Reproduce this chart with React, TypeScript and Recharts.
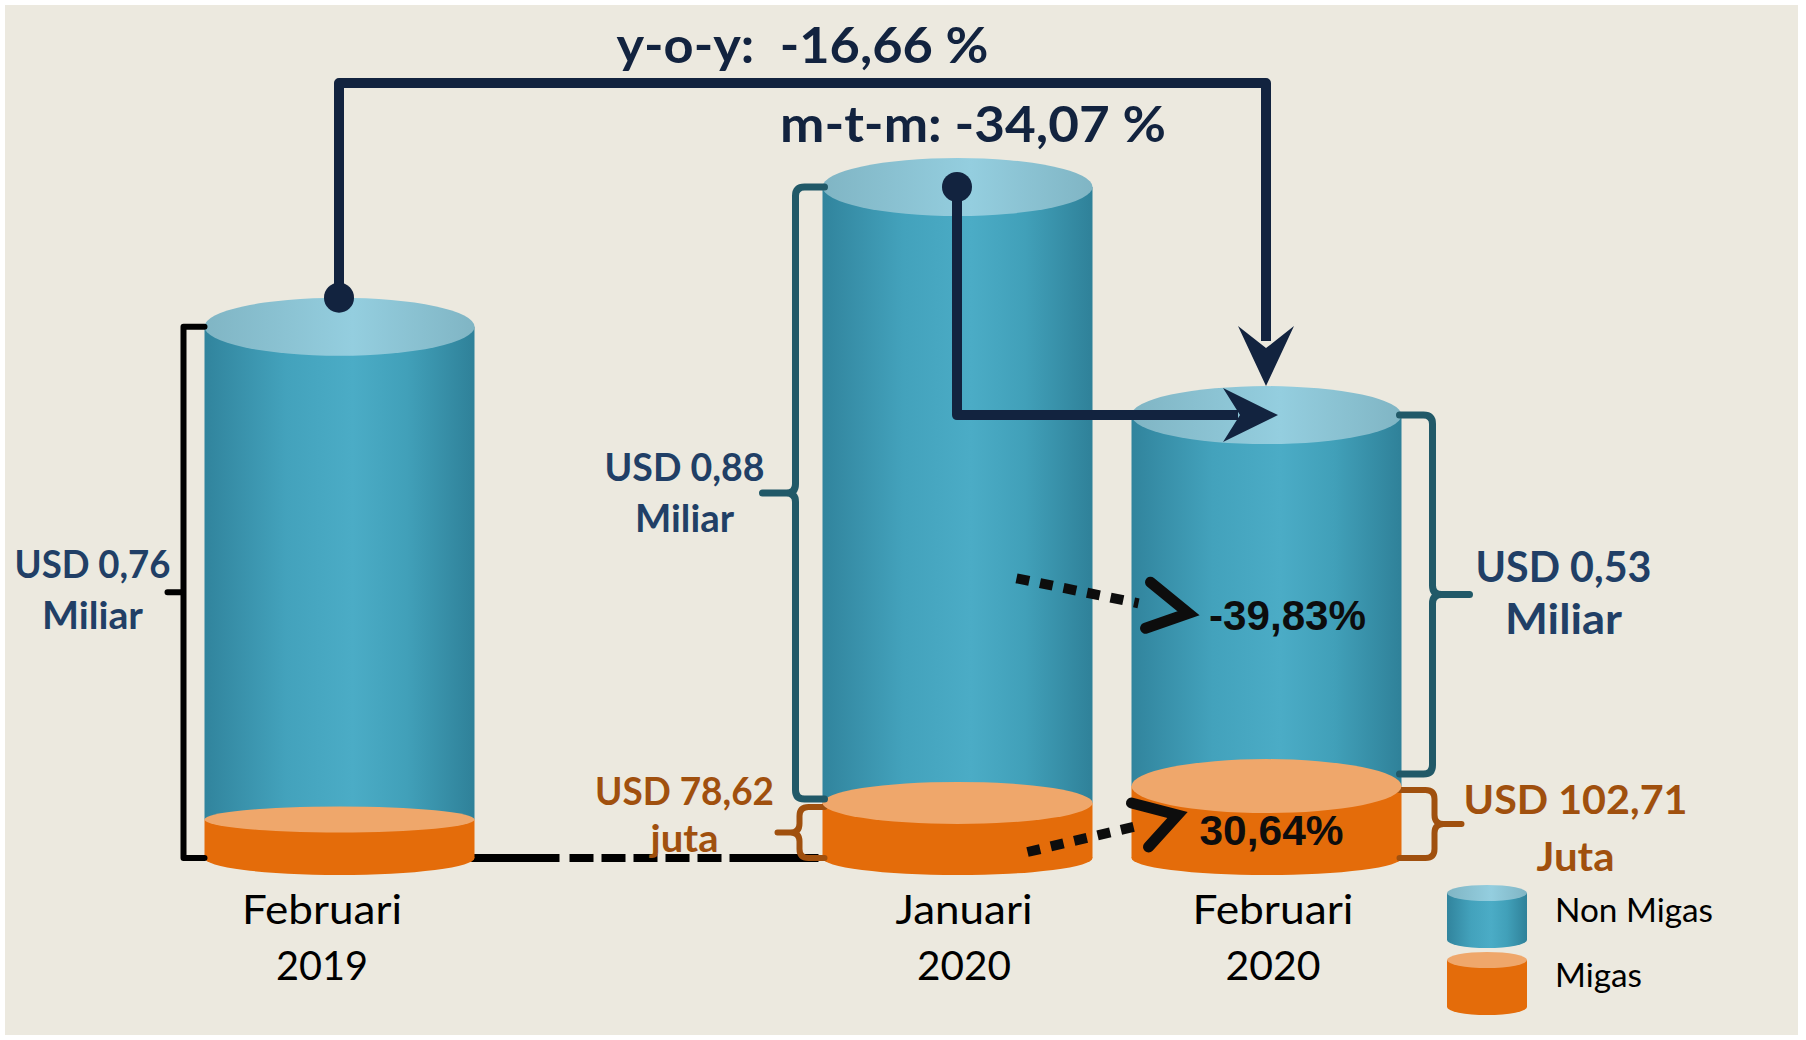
import { BarChart, Bar, XAxis, YAxis, ReferenceLine } from 'recharts'

// ekspor (USD miliar)
const periods = ['Februari 2019', ' ', 'Januari 2020', 'Februari 2020']
const monthLabels = ['Februari', '', 'Januari', 'Februari']
const yearLabels = ['2019', '', '2020', '2020']
const nonMigas = [0.704, null, 0.88, 0.53]
const migas = [0.055, null, 0.07862, 0.10271]
const nonMigasLabels = [['USD 0,76', 'Miliar'], [], ['USD 0,88', 'Miliar'], ['USD 0,53', 'Miliar']]
const migasLabels = [[], [], ['USD 78,62', 'juta'], ['USD 102,71', 'Juta']]
const yoyLabel = 'y-o-y:  -16,66 %'
const mtmLabel = 'm-t-m: -34,07 %'
const nonMigasChange = '-39,83%'
const migasChange = '30,64%'

const data = periods.map((period, i) => ({ period, migas: migas[i], nonMigas: nonMigas[i] }))
const total = (i: number) => (migas[i] ?? 0) + (nonMigas[i] ?? 0)

const NAVY = '#12233f'
const LABEL_BLUE = '#213f66'
const BROWN = '#a0500e'
const TEAL_DARK = '#215968'
const ORANGE = '#e46c0a'
const PEACH = '#efa76b'
const TOP_RY = 29
const BOTTOM_RY = 17
const MIGAS_RY = [13, 0, 21, 27]
const TICK_DX = [-17, 0, 7, 7]
const MONTH_W = [160, 0, 137, 161]
const YEAR_W = [92, 0, 94, 95]
const FONT = 'Lato, "Open Sans", sans-serif'
const ARIAL = '"Liberation Sans", Arial, sans-serif'
const YOY_Y = 83

function T({ x, y, size, color, w, bold = true, family = FONT, anchor = 'middle', children }: any) {
  return (
    <text x={x} y={y} fontSize={size} fill={color} fontFamily={family} fontWeight={bold ? 700 : 400}
      textAnchor={anchor} textLength={w} lengthAdjust="spacingAndGlyphs" style={{ whiteSpace: 'pre' }}>
      {children}
    </text>
  )
}

function brace(edgeX: number, bx: number, tipX: number, y1: number, y2: number) {
  const s = edgeX > bx ? 1 : -1
  const t = tipX > bx ? 1 : -1
  const r = 9
  const ym = (y1 + y2) / 2
  return `M ${edgeX} ${y1} H ${bx + s * r} Q ${bx} ${y1} ${bx} ${y1 + r} V ${ym - r} Q ${bx} ${ym} ${bx + t * r} ${ym} H ${tipX} ` +
    `M ${bx + t * r} ${ym} Q ${bx} ${ym} ${bx} ${ym + r} V ${y2 - r} Q ${bx} ${y2} ${bx + s * r} ${y2} H ${edgeX}`
}

function DotArrow({ from, to, tip, a, b }: any) {
  return (
    <g>
      <line x1={from[0]} y1={from[1]} x2={to[0]} y2={to[1]} stroke="#0d0d0d" strokeWidth={10} strokeDasharray="13 11" />
      <polyline points={`${a[0]},${a[1]} ${tip[0]},${tip[1]} ${b[0]},${b[1]}`} fill="none" stroke="#0d0d0d"
        strokeWidth={11} strokeLinecap="round" strokeLinejoin="miter" />
    </g>
  )
}

function MigasShape(props: any) {
  const { x, y, width, height, index } = props
  if (migas[index] == null || !height || height <= 0) return null
  const cx = x + width / 2
  const base = y + height
  const lab = migasLabels[index]
  return (
    <g>
      {index === 0 && (
        <g stroke="#000" strokeWidth={8}>
          <line x1={x + width - 5} y1={base} x2={x + width + 85} y2={base} />
          <line x1={x + width + 95} y1={base} x2={x + width + 272} y2={base} strokeDasharray="24 8" />
          <line x1={x + width + 270} y1={base} x2={x + width + 344} y2={base} />
        </g>
      )}
      <ellipse cx={cx} cy={base} rx={width / 2} ry={BOTTOM_RY} fill={ORANGE} />
      <rect x={x} y={y} width={width} height={height} fill={ORANGE} />
      {index === 2 && (
        <g>
          <path d={brace(x + 2, x - 23, x - 45, y + 4, base)} fill="none" stroke={BROWN} strokeWidth={6} strokeLinecap="round" />
          <T x={x - 138} y={(y + 4 + base) / 2 - 27} size={38} color={BROWN} w={179}>{lab[0]}</T>
          <T x={x - 138} y={(y + 4 + base) / 2 + 20} size={38} color={BROWN} w={68}>{lab[1]}</T>
        </g>
      )}
      {index === 3 && (
        <g>
          <path d={brace(x + width - 2, x + width + 33, x + width + 60, y + 4, base)} fill="none" stroke={BROWN} strokeWidth={6} strokeLinecap="round" />
          <T x={x + width + 174} y={(y + 4 + base) / 2 - 10} size={40} color={BROWN} w={224}>{lab[0]}</T>
          <T x={x + width + 174} y={(y + 4 + base) / 2 + 47} size={40} color={BROWN} w={78}>{lab[1]}</T>
        </g>
      )}
    </g>
  )
}

function NonMigasShape(props: any) {
  const { x, y, width, height, index } = props
  const v = nonMigas[index]
  if (v == null || !height || height <= 0) return null
  const cx = x + width / 2
  const rx = width / 2
  const mt = y + height
  const mh = (height / v) * (migas[index] ?? 0)
  const base = mt + mh
  const lab = nonMigasLabels[index]
  let extra = null
  if (index === 0) {
    const bx = x - 21
    const ym = (y + base) / 2
    extra = (
      <g>
        <path d={`M ${x} ${y} H ${bx} V ${base} H ${x} M ${bx} ${ym} H ${bx - 16}`} fill="none" stroke="#000" strokeWidth={6} strokeLinejoin="round" strokeLinecap="round" />
        <T x={x - 112} y={ym - 14} size={38} color={LABEL_BLUE} w={156}>{lab[0]}</T>
        <T x={x - 112} y={ym + 37} size={38} color={LABEL_BLUE} w={101}>{lab[1]}</T>
      </g>
    )
  } else if (index === 2) {
    const y2 = mt - 4
    const ym = (y + y2) / 2
    extra = (
      <g>
        <path d={brace(x + 2, x - 27, x - 60, y, y2)} fill="none" stroke={TEAL_DARK} strokeWidth={7} strokeLinecap="round" />
        <T x={x - 138} y={ym - 12} size={38} color={LABEL_BLUE} w={160}>{lab[0]}</T>
        <T x={x - 138} y={ym + 39} size={38} color={LABEL_BLUE} w={99}>{lab[1]}</T>
      </g>
    )
  } else if (index === 3) {
    const y2 = mt - 12
    const ym = (y + y2) / 2
    const b1 = y + 0.58 * height
    const t1 = [x + 57, b1 - 17]
    const b2 = base - 13
    const t2 = [x + 46, b2 - 30]
    extra = (
      <g>
        <path d={brace(x + width - 2, x + width + 31, x + width + 68, y, y2)} fill="none" stroke={TEAL_DARK} strokeWidth={7} strokeLinecap="round" />
        <T x={x + width + 162} y={ym - 13} size={42} color={LABEL_BLUE} w={176}>{lab[0]}</T>
        <T x={x + width + 162} y={ym + 39} size={42} color={LABEL_BLUE} w={117}>{lab[1]}</T>
        <DotArrow from={[t1[0] - 172, t1[1] - 35]} to={[t1[0] - 50, t1[1] - 10]} tip={t1}
          a={[t1[0] - 38, t1[1] - 31]} b={[t1[0] - 43, t1[1] + 15]} />
        <T x={cx + 21} y={b1} size={42} color="#0d0d0d" w={157} family={ARIAL}>{nonMigasChange}</T>
        <DotArrow from={[t2[0] - 150, t2[1] + 37]} to={[t2[0] - 40, t2[1] + 11]} tip={t2}
          a={[t2[0] - 46, t2[1] - 12]} b={[t2[0] - 29, t2[1] + 32]} />
        <T x={cx + 5} y={b2} size={42} color="#0d0d0d" w={144} family={ARIAL}>{migasChange}</T>
      </g>
    )
  }
  return (
    <g>
      <rect x={x} y={y} width={width} height={height} fill="url(#tealBody)" />
      <ellipse cx={cx} cy={mt} rx={rx} ry={MIGAS_RY[index]} fill={PEACH} />
      <ellipse cx={cx} cy={y} rx={rx} ry={TOP_RY} fill="url(#tealTop)" />
      {extra}
    </g>
  )
}

function YoyConnector(props: any) {
  const { x1, y1, x2, y2 } = props
  const sy = y1 - TOP_RY
  const ty = y2 - TOP_RY
  return (
    <g>
      <path d={`M ${x1} ${sy} V ${YOY_Y} H ${x2} V ${ty - 45}`} fill="none" stroke={NAVY} strokeWidth={10} strokeLinejoin="round" />
      <circle cx={x1} cy={sy} r={15} fill={NAVY} />
      <path d={`M ${x2} ${ty} L ${x2 - 28} ${ty - 60} L ${x2} ${ty - 38} L ${x2 + 28} ${ty - 60} Z`} fill={NAVY} />
      <T x={(x1 + x2) / 2} y={YOY_Y - 20} size={49} color={NAVY} w={372}>{yoyLabel}</T>
    </g>
  )
}

function MtmConnector(props: any) {
  const { x1, y1, x2, y2 } = props
  const tx = x2 + 12
  return (
    <g>
      <path d={`M ${x1} ${y1} V ${y2} H ${tx - 40}`} fill="none" stroke={NAVY} strokeWidth={10} strokeLinejoin="round" />
      <circle cx={x1} cy={y1} r={15} fill={NAVY} />
      <path d={`M ${tx} ${y2} L ${tx - 55} ${y2 - 27} L ${tx - 38} ${y2} L ${tx - 55} ${y2 + 27} Z`} fill={NAVY} />
      <T x={x1 + 16} y={y1 - TOP_RY - 16} size={49} color={NAVY} w={386}>{mtmLabel}</T>
    </g>
  )
}

function PeriodTick(props: any) {
  const { x, y, index } = props
  if (!monthLabels[index]) return null
  const tx = x + TICK_DX[index]
  return (
    <g>
      <T x={tx} y={y + 66} size={40} bold={false} color="#000" w={MONTH_W[index]}>{monthLabels[index]}</T>
      <T x={tx} y={y + 122} size={40} bold={false} color="#000" w={YEAR_W[index]}>{yearLabels[index]}</T>
    </g>
  )
}

function MiniCylinder({ cx, top, bottom, body, topFill }: any) {
  return (
    <g>
      <ellipse cx={cx} cy={bottom} rx={40} ry={8} fill={body} />
      <rect x={cx - 40} y={top} width={80} height={bottom - top} fill={body} />
      <ellipse cx={cx} cy={top} rx={40} ry={8} fill={topFill} />
    </g>
  )
}

export default function App() {
  return (
    <div style={{ position: 'absolute', left: 0, top: 0, width: 1806, height: 1040, background: '#fff', overflow: 'hidden' }}>
      <div style={{ position: 'absolute', left: 5, top: 5, width: 1793, height: 1030, background: '#ece9df' }} />
      <svg width={0} height={0} style={{ position: 'absolute' }}>
        <defs>
          <linearGradient id="tealBody" x1="0" y1="0" x2="1" y2="0">
            <stop offset="0%" stopColor="#31849d" />
            <stop offset="30%" stopColor="#43a2bc" />
            <stop offset="55%" stopColor="#4bacc6" />
            <stop offset="75%" stopColor="#41a0b9" />
            <stop offset="100%" stopColor="#2f8199" />
          </linearGradient>
          <linearGradient id="tealTop" x1="0" y1="0" x2="1" y2="0">
            <stop offset="0%" stopColor="#80b5c4" />
            <stop offset="55%" stopColor="#94cedf" />
            <stop offset="100%" stopColor="#80b5c4" />
          </linearGradient>
        </defs>
      </svg>
      <div style={{ position: 'absolute', left: 0, top: 0 }}>
        <BarChart width={1806} height={1040} data={data} margin={{ top: 18, right: 385.5, bottom: 0, left: 184.5 }}>
          <XAxis dataKey="period" height={182} axisLine={false} tickLine={false} tickSize={0} tickMargin={0}
            interval={0} tick={<PeriodTick />} />
          <YAxis hide domain={[0, 1.2]} />
          <Bar dataKey="migas" stackId="a" barSize={270} shape={<MigasShape />} isAnimationActive={false} />
          <Bar dataKey="nonMigas" stackId="a" barSize={270} shape={<NonMigasShape />} isAnimationActive={false} />
          <ReferenceLine segment={[{ x: periods[0], y: total(0) }, { x: periods[3], y: total(3) }]} shape={<YoyConnector />} />
          <ReferenceLine segment={[{ x: periods[2], y: total(2) }, { x: periods[3], y: total(3) }]} shape={<MtmConnector />} />
        </BarChart>
      </div>
      <svg width={1806} height={1040} style={{ position: 'absolute', left: 0, top: 0, pointerEvents: 'none' }}>
        <MiniCylinder cx={1487} top={893} bottom={940} body="url(#tealBody)" topFill="url(#tealTop)" />
        <MiniCylinder cx={1487} top={960} bottom={1007} body={ORANGE} topFill={PEACH} />
        <T x={1555} y={922} size={33} bold={false} color="#000" anchor="start" w={158}>Non Migas</T>
        <T x={1555} y={987} size={33} bold={false} color="#000" anchor="start" w={87}>Migas</T>
      </svg>
    </div>
  )
}
